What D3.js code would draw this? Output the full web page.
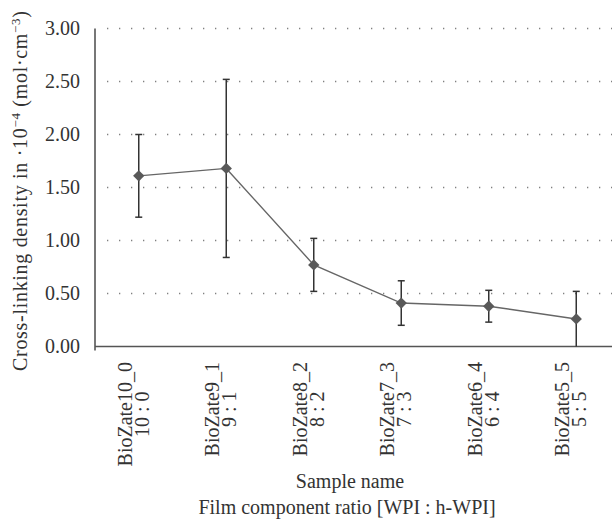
<!DOCTYPE html>
<html>
<head>
<meta charset="utf-8">
<script src="https://cdn.jsdelivr.net/npm/d3@7"></script>
<style>
  body { margin: 0; background: #fff; }
  svg text { font-family: "Liberation Serif", "DejaVu Serif", serif; fill: #333; }
</style>
</head>
<body>
<div id="chart"></div>
<script>
// data
var samples = ["BioZate10_0", "BioZate9_1", "BioZate8_2", "BioZate7_3", "BioZate6_4", "BioZate5_5"];
var ratios = ["10 : 0", "9 : 1", "8 : 2", "7 : 3", "6 : 4", "5 : 5"];
var density = [1.61, 1.68, 0.77, 0.41, 0.38, 0.26];
var errors = [0.39, 0.84, 0.25, 0.21, 0.15, 0.26];
var yTicks = [0, 0.5, 1, 1.5, 2, 2.5, 3];

var width = 612,
    height = 519,
    fs = "20px",
    serif = "'Liberation Serif', 'DejaVu Serif', serif";

var svg = d3.select("#chart").append("svg")
    .attr("width", width)
    .attr("height", height)
    .attr("font-family", serif);

var x = d3.scalePoint()
    .domain(samples)
    .range([95, 620])
    .padding(0.5);

var y = d3.scaleLinear()
    .domain([0, 3])
    .range([346.5, 28.5]);

// dotted grid
svg.append("g").selectAll("line")
    .data(yTicks.filter(function(t) { return t > 0; }))
    .enter().append("line")
    .attr("x1", 107).attr("x2", width)
    .attr("y1", function(d) { return y(d); })
    .attr("y2", function(d) { return y(d); })
    .attr("stroke", "#808080")
    .attr("stroke-width", 1.3)
    .attr("stroke-dasharray", "1.3,10.7");

// y axis labels (no ticks)
var yAxis = svg.append("g")
    .attr("transform", "translate(95,0)")
    .call(d3.axisLeft(y).tickValues(yTicks).tickFormat(d3.format(".2f")).tickSize(0).tickPadding(15));
yAxis.attr("font-family", serif).attr("font-size", null);
yAxis.select(".domain").remove();
yAxis.selectAll("text")
    .style("font-size", fs)
    .style("font-family", serif)
    .attr("fill", "#333");

// axis lines
svg.append("line")
    .attr("x1", 95).attr("x2", 95)
    .attr("y1", y(3)).attr("y2", y(0) + 4)
    .attr("stroke", "#555")
    .attr("stroke-width", 1.6);

svg.append("line")
    .attr("x1", 95).attr("x2", width)
    .attr("y1", y(0)).attr("y2", y(0))
    .attr("stroke", "#555")
    .attr("stroke-width", 1.6);

// x labels, rotated, two lines
var lab = svg.append("g").selectAll("g")
    .data(samples)
    .enter().append("g")
    .attr("transform", function(d) { return "translate(" + x(d) + ",362) rotate(-90)"; });

lab.append("text")
    .attr("class", "l1")
    .attr("x", 0).attr("y", -7)
    .attr("text-anchor", "end")
    .style("font-size", fs)
    .style("font-family", serif)
    .text(function(d) { return d; });

lab.each(function(d, i) {
    var g = d3.select(this);
    var len = g.select(".l1").node().getComputedTextLength();
    g.append("text")
        .attr("x", -len / 2).attr("y", 10)
        .attr("text-anchor", "middle")
        .style("font-size", fs)
        .style("font-family", serif)
        .text(ratios[i]);
});

// error bars
var err = svg.append("g").selectAll("g")
    .data(samples)
    .enter().append("g");

err.append("line")
    .attr("x1", function(d) { return x(d); })
    .attr("x2", function(d) { return x(d); })
    .attr("y1", function(d, i) { return y(density[i] + errors[i]); })
    .attr("y2", function(d, i) { return y(Math.max(0, density[i] - errors[i])); })
    .attr("stroke", "#333")
    .attr("stroke-width", 1.5);

err.append("line")
    .attr("x1", function(d) { return x(d) - 3.5; })
    .attr("x2", function(d) { return x(d) + 3.5; })
    .attr("y1", function(d, i) { return y(density[i] + errors[i]); })
    .attr("y2", function(d, i) { return y(density[i] + errors[i]); })
    .attr("stroke", "#333")
    .attr("stroke-width", 1.5);

err.filter(function(d, i) { return density[i] - errors[i] > 0.001; })
    .append("line")
    .attr("x1", function(d) { return x(d) - 3.5; })
    .attr("x2", function(d) { return x(d) + 3.5; })
    .attr("y1", function(d) { var i = samples.indexOf(d); return y(density[i] - errors[i]); })
    .attr("y2", function(d) { var i = samples.indexOf(d); return y(density[i] - errors[i]); })
    .attr("stroke", "#333")
    .attr("stroke-width", 1.5);

// line
var line = d3.line()
    .x(function(d, i) { return x(samples[i]); })
    .y(function(d) { return y(d); });

svg.append("path")
    .datum(density)
    .attr("d", line)
    .attr("fill", "none")
    .attr("stroke", "#666")
    .attr("stroke-width", 1.4);

// diamond markers
var square = d3.symbol().type(d3.symbolSquare).size(64);
svg.append("g").selectAll("path")
    .data(density)
    .enter().append("path")
    .attr("d", square)
    .attr("transform", function(d, i) { return "translate(" + x(samples[i]) + "," + y(d) + ") rotate(45)"; })
    .attr("fill", "#595959");

// y axis title
var yt = svg.append("text")
    .attr("transform", "translate(27,191) rotate(-90)")
    .attr("text-anchor", "middle")
    .attr("textLength", 360)
    .attr("lengthAdjust", "spacing")
    .style("font-size", fs)
    .style("font-family", serif);
yt.append("tspan").text("Cross-linking density in \u00b710");
yt.append("tspan").attr("baseline-shift", "super").style("font-size", "13px").text("\u22124");
yt.append("tspan").text(" (mol\u00b7cm");
yt.append("tspan").attr("baseline-shift", "super").style("font-size", "13px").text("\u22123");
yt.append("tspan").text(")");

// x axis titles
svg.append("text")
    .attr("x", 350).attr("y", 488)
    .attr("text-anchor", "middle")
    .style("font-size", fs)
    .style("font-family", serif)
    .text("Sample name");

svg.append("text")
    .attr("x", 347).attr("y", 514)
    .attr("text-anchor", "middle")
    .style("font-size", fs)
    .style("font-family", serif)
    .text("Film component ratio [WPI : h-WPI]");
</script>
</body>
</html>
